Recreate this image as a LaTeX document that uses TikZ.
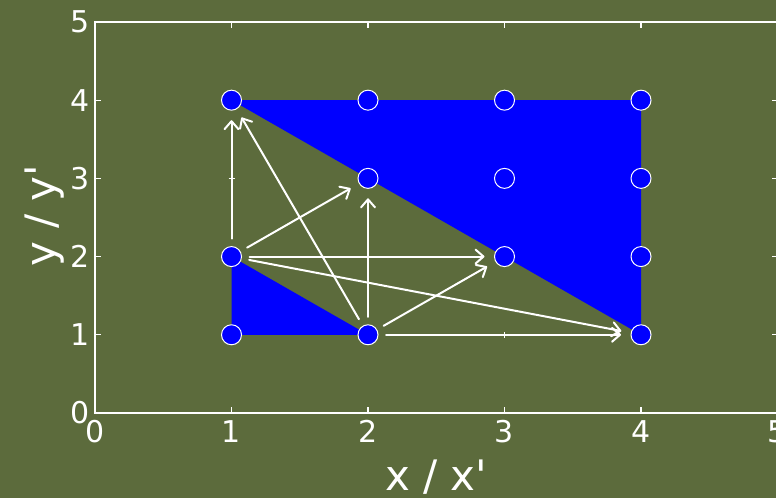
\documentclass[tikz,border=0pt]{standalone}
\usepackage{fontspec}
\setmainfont{DejaVu Sans}
\usetikzlibrary{arrows.meta}
\definecolor{plotbg}{RGB}{92,107,60}
\definecolor{regionblue}{RGB}{0,0,255}
\tikzset{
  gridpt/.style={circle,draw=white,fill=regionblue,line width=0.5pt,
    minimum size=10pt,inner sep=0pt,outer sep=0pt},
  move/.style={draw=white,line width=1pt,line cap=round,
    -{Straight Barb[length=4pt,width=7pt,round]},shorten <=4pt,shorten >=5pt},
  axisline/.style={draw=white,line width=1pt},
  tickline/.style={draw=white,line width=0.6pt},
  crossmk/.style={draw=white,line width=0.4pt},
  ticklbl/.style={text=white,inner sep=1pt,font=\fontsize{15}{15}\selectfont},
  axlbl/.style={text=white,inner sep=0pt,font=\fontsize{21}{21}\selectfont},
}
\begin{document}
\begin{tikzpicture}[x=68.25pt,y=39.1pt]%
\fill[plotbg] (-0.696,-1.087) rectangle (4.989,5.281);
\useasboundingbox (-0.696,-1.087) rectangle (4.989,5.281);
% shaded regions
\fill[regionblue] (1,4) -- (4,4) -- (4,1) -- cycle;
\fill[regionblue] (1,2) -- (1,1) -- (2,1) -- cycle;
% frame, ticks and labels
\draw[axisline] (0,0) rectangle (5,5);
\foreach \i in {0,...,5}{
  \draw[tickline] (\i,0) -- ++(0,3pt);
  \draw[tickline] (\i,5) -- ++(0,-3pt);
  \draw[tickline] (0,\i) -- ++(3pt,0);
  \draw[tickline] (5,\i) -- ++(-3pt,0);
  \node[ticklbl,anchor=north] (xl\i) at ([yshift=-2.5pt]\i,0) {\i};
  \node[ticklbl,anchor=east] (yl\i) at ([xshift=-1.5pt]0,\i) {\i};
}
\node[axlbl] (xlab) at (2.5,-0.82) {x / x\textquotesingle};
\node[axlbl,rotate=90] (ylab) at (-0.37,2.52) {y / y\textquotesingle};
% grid points
\foreach \x/\y in {1/1,2/1,4/1,1/2,3/2,4/2,2/3,3/3,4/3,1/4,2/4,3/4,4/4}
  \node[gridpt] (p\x\y) at (\x,\y) {};
\foreach \x/\y in {1/3,2/2,3/1}{
  \coordinate (m\x\y) at (\x,\y);
  \draw[crossmk] ([xshift=-1.5pt]m\x\y) -- ([xshift=1.5pt]m\x\y);
  \draw[crossmk] ([yshift=-1.5pt]m\x\y) -- ([yshift=1.5pt]m\x\y);
}
% moves
\draw[move] (p12) -- (p14);
\draw[move] (p21) -- (p14);
\draw[move] (p12) -- (p23);
\draw[move] (p21) -- (p23);
\draw[move] (p12) -- (p32);
\draw[move] (p21) -- (p32);
\draw[move] (p12) -- (p41);
\draw[move] (p21) -- (p41);
\end{tikzpicture}
\end{document}
